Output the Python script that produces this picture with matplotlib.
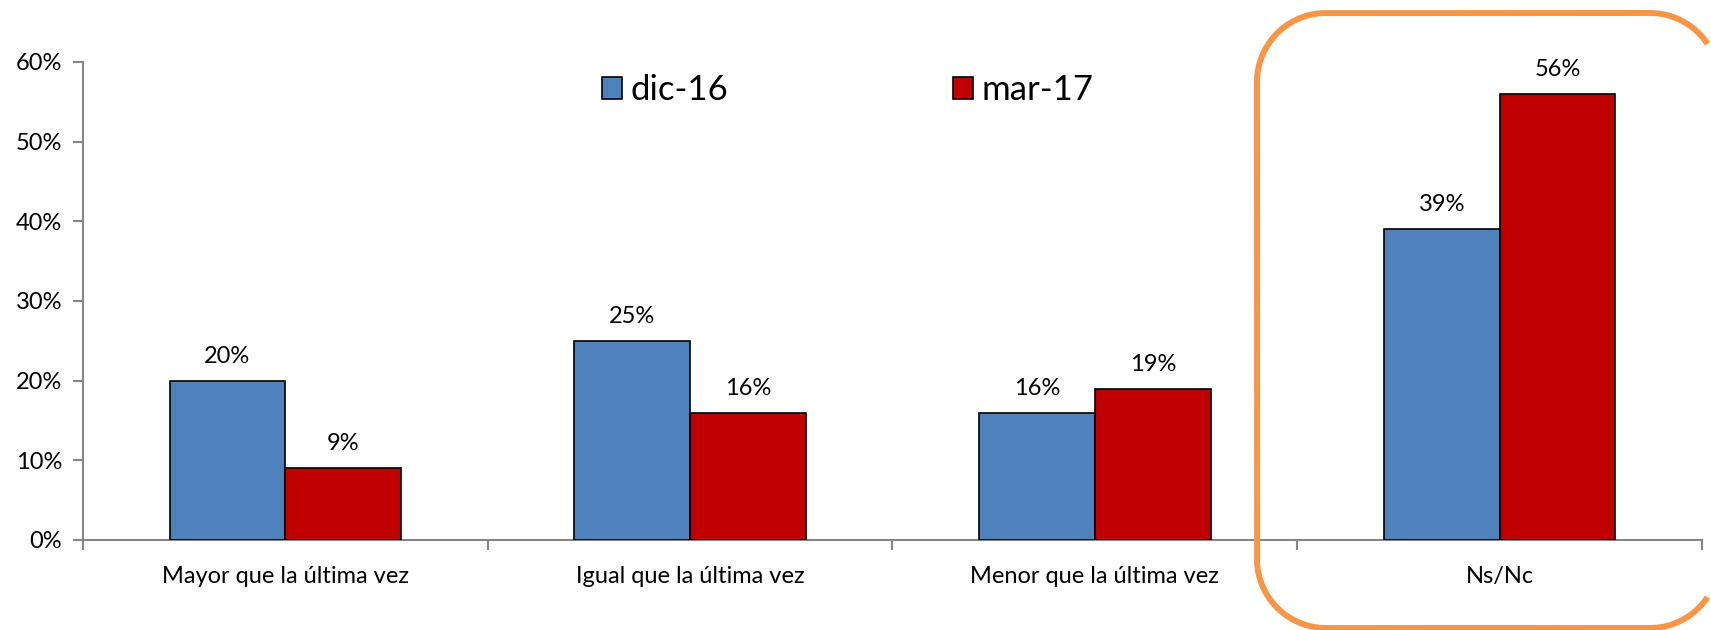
import matplotlib
matplotlib.use("Agg")
import matplotlib.pyplot as plt
import numpy as np
from matplotlib.lines import Line2D
from matplotlib.patches import Patch
from matplotlib.ticker import PercentFormatter

categories = ["Mayor que la última vez", "Igual que la última vez",
              "Menor que la última vez", "Ns/Nc"]
series_names = ["dic-16", "mar-17"]
dic16 = [20, 25, 16, 39]
mar17 = [9, 16, 19, 56]
series_colors = ["#4F81BD", "#C00000"]
yticks = [0, 10, 20, 30, 40, 50, 60]

FIG_W, FIG_H = 17.11, 6.30


def _rounded_outline(x0, y0, w, h, r, xmax, n=60):
    # open outline, trimmed to the canvas width (the frame runs off the right edge)
    xs, ys = [], []
    corners = [(x0 + w - r, y0 + h - r, 0), (x0 + r, y0 + h - r, 90),
               (x0 + r, y0 + r, 180), (x0 + w - r, y0 + r, 270)]
    for cx, cy, a0 in corners:
        t = np.radians(np.linspace(a0, a0 + 90, n))
        xs.extend(cx + r * np.cos(t))
        ys.extend(cy + r * np.sin(t))
    xs, ys = np.array(xs), np.array(ys)
    keep = xs <= xmax
    return xs[keep], ys[keep]


plt.rcParams["font.family"] = ["Lato", "DejaVu Sans"]

fig = plt.figure(figsize=(FIG_W, FIG_H), dpi=100)
ax = fig.add_axes([0.0485, 0.1429, 0.9462, 0.7587])

x = np.arange(len(categories))
w = 0.286
for i, (vals, col) in enumerate(zip([dic16, mar17], series_colors)):
    off = (i - 0.5) * w
    bars = ax.bar(x + off, vals, w, color=col, edgecolor="black", linewidth=1.2, zorder=3)
    for b, v in zip(bars, vals):
        ax.annotate(f"{v}%", (b.get_x() + b.get_width() / 2, v), xytext=(0, 10),
                    textcoords="offset points", ha="center", va="bottom", fontsize=17)

ax.set_xlim(-0.5, len(categories) - 0.5)
ax.set_ylim(0, 60)
ax.set_yticks(yticks)
ax.yaxis.set_major_formatter(PercentFormatter(decimals=0))
ax.set_xticks(x)
ax.set_xticklabels(categories, fontsize=17)
ax.tick_params(axis="x", length=0, pad=19)
ax.set_xticks(np.arange(len(categories) + 1) - 0.5, minor=True)
ax.tick_params(axis="x", which="minor", length=7, color="#868686", width=1.5)
ax.tick_params(axis="y", labelsize=17, length=7, color="#868686", width=1.5, pad=8)
for s in ["top", "right"]:
    ax.spines[s].set_visible(False)
for s in ["left", "bottom"]:
    ax.spines[s].set_color("#868686")
    ax.spines[s].set_linewidth(1.5)

handles = [Patch(facecolor=c, edgecolor="black", linewidth=1.2) for c in series_colors]
ax.legend(handles, series_names, loc="center left", bbox_to_anchor=(0.312, 0.941),
          ncol=2, frameon=False, fontsize=25, handlelength=0.58, handleheight=0.58,
          handletextpad=0.25, columnspacing=6.45, borderaxespad=0)

# rounded highlight frame around the last category (figure inches)
fx, fy = _rounded_outline(12.57, 0.02, 4.62, 6.15, 0.69, FIG_W - 0.03)
fig.add_artist(Line2D(fx, fy, transform=fig.dpi_scale_trans, color="#F79646",
                      linewidth=4.3, solid_capstyle="butt", zorder=5))

fig.savefig("out.png", dpi=100)
